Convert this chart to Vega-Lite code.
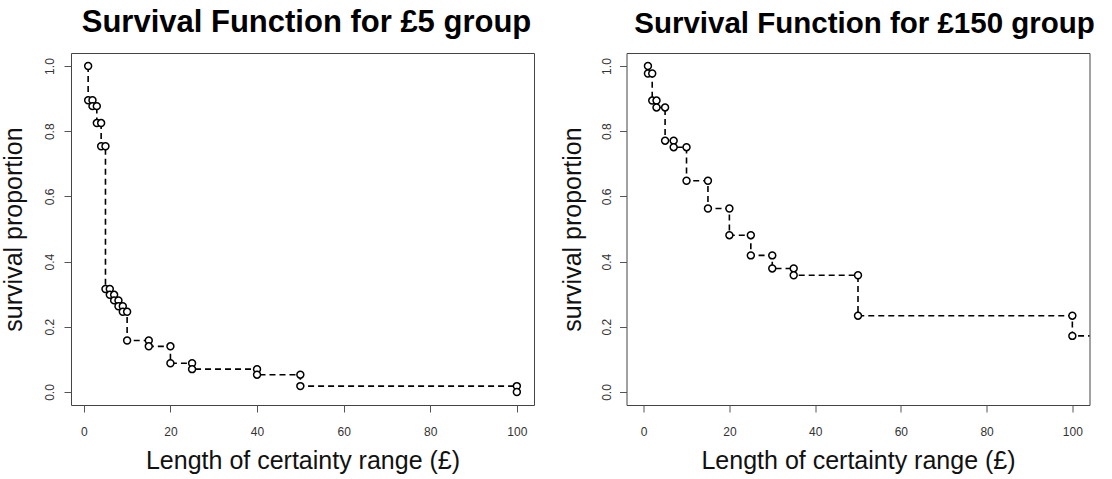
{
  "$schema": "https://vega.github.io/schema/vega-lite/v6.json",
  "background": "white",
  "autosize": {"type": "pad"},
  "padding": {"left": 0, "top": 6, "right": 0, "bottom": 0},
  "config": {
    "font": "Liberation Sans",
    "view": {"stroke": "#444", "strokeWidth": 1},
    "concat": {"spacing": 24.5},
    "axis": {
      "grid": false,
      "domain": false,
      "tickColor": "#555",
      "tickSize": 7,
      "labelFont": "Liberation Sans",
      "labelFontSize": 12,
      "labelColor": "#333",
      "titleFont": "Liberation Sans",
      "titleFontSize": 25,
      "titleFontWeight": "normal",
      "titleColor": "#111"
    },
    "title": {
      "font": "Liberation Sans",
      "fontSize": 30,
      "fontWeight": "bold",
      "color": "#000",
      "anchor": "middle",
      "baseline": "alphabetic",
      "frame": "group"
    }
  },
  "datasets": {
    "five": [
      {"o": 1, "x": 1, "s": 1.0},
      {"o": 2, "x": 1, "s": 0.895},
      {"o": 3, "x": 2, "s": 0.895},
      {"o": 4, "x": 2, "s": 0.877},
      {"o": 5, "x": 3, "s": 0.877},
      {"o": 6, "x": 3, "s": 0.825},
      {"o": 7, "x": 4, "s": 0.825},
      {"o": 8, "x": 4, "s": 0.754},
      {"o": 9, "x": 5, "s": 0.754},
      {"o": 10, "x": 5, "s": 0.316},
      {"o": 11, "x": 6, "s": 0.316},
      {"o": 12, "x": 6, "s": 0.298},
      {"o": 13, "x": 7, "s": 0.298},
      {"o": 14, "x": 7, "s": 0.281},
      {"o": 15, "x": 8, "s": 0.281},
      {"o": 16, "x": 8, "s": 0.263},
      {"o": 17, "x": 9, "s": 0.263},
      {"o": 18, "x": 9, "s": 0.246},
      {"o": 19, "x": 10, "s": 0.246},
      {"o": 20, "x": 10, "s": 0.158},
      {"o": 21, "x": 15, "s": 0.158},
      {"o": 22, "x": 15, "s": 0.14},
      {"o": 23, "x": 20, "s": 0.14},
      {"o": 24, "x": 20, "s": 0.088},
      {"o": 25, "x": 25, "s": 0.088},
      {"o": 26, "x": 25, "s": 0.07},
      {"o": 27, "x": 40, "s": 0.07},
      {"o": 28, "x": 40, "s": 0.053},
      {"o": 29, "x": 50, "s": 0.053},
      {"o": 30, "x": 50, "s": 0.018},
      {"o": 31, "x": 100, "s": 0.018},
      {"o": 32, "x": 100, "s": 0.0}
    ],
    "onefifty": [
      {"o": 1, "x": 1, "s": 1.0},
      {"o": 2, "x": 1, "s": 0.977},
      {"o": 3, "x": 2, "s": 0.977},
      {"o": 4, "x": 2, "s": 0.894},
      {"o": 5, "x": 3, "s": 0.894},
      {"o": 6, "x": 3, "s": 0.873},
      {"o": 7, "x": 5, "s": 0.873},
      {"o": 8, "x": 5, "s": 0.771},
      {"o": 9, "x": 7, "s": 0.771},
      {"o": 10, "x": 7, "s": 0.751},
      {"o": 11, "x": 10, "s": 0.751},
      {"o": 12, "x": 10, "s": 0.648},
      {"o": 13, "x": 15, "s": 0.648},
      {"o": 14, "x": 15, "s": 0.563},
      {"o": 15, "x": 20, "s": 0.563},
      {"o": 16, "x": 20, "s": 0.481},
      {"o": 17, "x": 25, "s": 0.481},
      {"o": 18, "x": 25, "s": 0.419},
      {"o": 19, "x": 30, "s": 0.419},
      {"o": 20, "x": 30, "s": 0.379},
      {"o": 21, "x": 35, "s": 0.379},
      {"o": 22, "x": 35, "s": 0.358},
      {"o": 23, "x": 50, "s": 0.358},
      {"o": 24, "x": 50, "s": 0.234},
      {"o": 25, "x": 100, "s": 0.234},
      {"o": 26, "x": 100, "s": 0.172},
      {"o": 27, "x": 150, "s": 0.172}
    ]
  },
  "hconcat": [
    {
      "title": {"text": "Survival Function for £5 group", "fontSize": 31, "offset": 14, "dx": 4},
      "width": 463,
      "height": 352,
      "data": {"name": "five"},
      "encoding": {
        "x": {
          "field": "x",
          "type": "quantitative",
          "scale": {"domain": [-2.96, 103.96], "nice": false, "zero": false},
          "axis": {
            "values": [0, 20, 40, 60, 80, 100],
            "title": "Length of certainty range (£)",
            "labelBaseline": "alphabetic",
            "labelPadding": 23,
            "titleBaseline": "alphabetic",
            "titleY": 63.5
          }
        },
        "y": {
          "field": "s",
          "type": "quantitative",
          "scale": {"domain": [-0.04, 1.04], "nice": false, "zero": false},
          "axis": {
            "values": [0, 0.2, 0.4, 0.6, 0.8, 1.0],
            "format": ".1f",
            "title": "survival proportion",
            "labelAngle": -90,
            "labelAlign": "center",
            "labelBaseline": "alphabetic",
            "labelPadding": 11,
            "titleAngle": -90,
            "titleAlign": "center",
            "titleBaseline": "alphabetic",
            "titleX": -50,
            "titleY": 176
          }
        }
      },
      "layer": [
        {
          "mark": {"type": "line", "color": "black", "strokeWidth": 1.6, "strokeDash": [6, 4], "clip": true},
          "encoding": {"order": {"field": "o", "type": "quantitative"}}
        },
        {
          "mark": {"type": "point", "shape": "circle", "filled": true, "fill": "white", "fillOpacity": 1, "stroke": "black", "strokeWidth": 1.5, "size": 48, "opacity": 1, "clip": true}
        }
      ]
    },
    {
      "title": {"text": "Survival Function for £150 group", "fontSize": 29.5, "offset": 14, "dx": 6.5},
      "width": 463,
      "height": 352,
      "data": {"name": "onefifty"},
      "encoding": {
        "x": {
          "field": "x",
          "type": "quantitative",
          "scale": {"domain": [-4, 104], "nice": false, "zero": false},
          "axis": {
            "values": [0, 20, 40, 60, 80, 100],
            "title": "Length of certainty range (£)",
            "labelBaseline": "alphabetic",
            "labelPadding": 23,
            "titleBaseline": "alphabetic",
            "titleY": 63.5
          }
        },
        "y": {
          "field": "s",
          "type": "quantitative",
          "scale": {"domain": [-0.04, 1.04], "nice": false, "zero": false},
          "axis": {
            "values": [0, 0.2, 0.4, 0.6, 0.8, 1.0],
            "format": ".1f",
            "title": "survival proportion",
            "labelAngle": -90,
            "labelAlign": "center",
            "labelBaseline": "alphabetic",
            "labelPadding": 9,
            "titleAngle": -90,
            "titleAlign": "center",
            "titleBaseline": "alphabetic",
            "titleX": -45.6,
            "titleY": 176
          }
        }
      },
      "layer": [
        {
          "mark": {"type": "line", "color": "black", "strokeWidth": 1.6, "strokeDash": [6, 4], "clip": true},
          "encoding": {"order": {"field": "o", "type": "quantitative"}}
        },
        {
          "mark": {"type": "point", "shape": "circle", "filled": true, "fill": "white", "fillOpacity": 1, "stroke": "black", "strokeWidth": 1.5, "size": 48, "opacity": 1, "clip": true}
        }
      ]
    }
  ]
}
